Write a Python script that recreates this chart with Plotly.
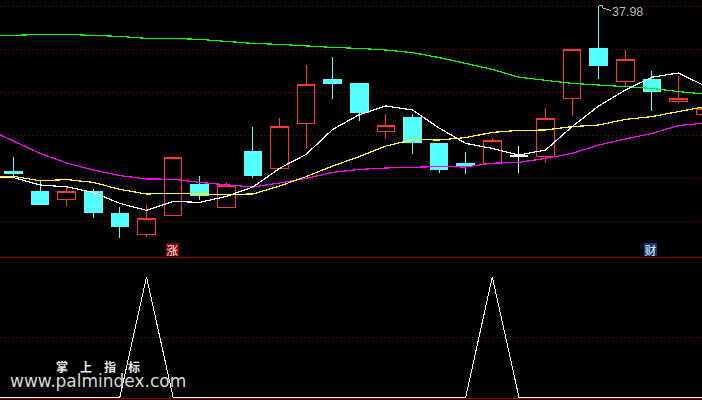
import plotly.graph_objects as go

idx = list(range(27))
opens = [29.70,28.70,28.27,28.70,27.60,26.52,27.47,29.05,27.87,30.70,29.82,32.07,34.30,34.10,31.67,32.40,31.10,30.10,30.09,30.48,30.42,33.32,35.85,34.17,34.30,33.17,32.55]
highs = [30.40,29.25,28.90,28.80,27.90,28.00,30.39,29.45,29.17,31.90,32.34,35.00,35.40,34.10,32.55,32.55,31.10,30.65,31.35,30.95,32.85,35.79,37.95,35.75,34.70,34.45,32.95]
lows = [29.35,28.05,27.95,27.35,26.37,26.40,27.47,28.25,27.87,29.35,29.82,30.87,33.30,32.22,31.30,30.57,29.62,29.57,30.09,29.62,30.12,32.47,34.32,33.95,32.72,33.12,32.55]
closes = [29.57,28.05,28.70,27.62,26.95,27.34,30.39,28.47,29.00,29.50,31.94,34.04,34.10,32.62,31.99,31.12,29.77,30.00,31.25,30.43,32.34,35.79,34.97,35.29,33.67,33.34,32.84]
doji_index = 19

ma_x = [-1] + idx
ma_white = [29.37,29.37,29.00,28.91,28.63,28.08,27.73,28.18,28.13,28.43,28.90,29.83,30.53,31.78,32.52,32.95,32.75,31.85,31.08,30.83,30.50,30.75,31.92,32.95,33.75,34.39,34.60,33.95]
ma_yellow = [29.45,29.43,29.21,29.27,29.13,28.78,28.55,28.58,28.55,28.53,28.55,28.95,29.42,29.95,30.42,30.95,31.27,31.25,31.37,31.63,31.73,31.75,31.92,32.00,32.28,32.42,32.67,32.92]
ma_magenta = [31.82,31.22,30.58,30.10,29.75,29.47,29.30,29.29,29.13,29.01,28.90,29.10,29.33,29.63,29.78,29.85,29.88,29.92,29.90,30.09,30.13,30.33,30.58,31.00,31.30,31.58,31.97,32.10]
ma_green = [36.48,36.48,36.53,36.53,36.48,36.43,36.33,36.33,36.28,36.18,36.08,36.03,35.95,35.88,35.83,35.75,35.62,35.37,35.08,34.78,34.39,34.22,34.08,34.00,33.92,33.83,33.67,33.55]

signal_x = [-1,4,5,6,17,18,19,26]
signal = [0,0,100,0,0,100,0,0]

flag_x = [22, 22.15, 22.15, 22.45]
flag_y = [37.98, 37.98, 37.85, 37.72]

grid_price = [37.93,35.78,33.63,31.48,29.33,27.18]
grid_signal = [50]
peak_label = "37.98"

RED = "#FF3333"
CYAN = "#54FFFF"
GRID = "#8A0000"
NONE = "rgba(0,0,0,0)"

normal = [i for i in idx if i != doji_index]
fig = go.Figure()
fig.add_trace(go.Candlestick(
    x=normal,
    open=[opens[i] for i in normal], high=[highs[i] for i in normal],
    low=[lows[i] for i in normal], close=[closes[i] for i in normal],
    whiskerwidth=0,
    increasing=dict(line=dict(color=RED, width=1), fillcolor=NONE),
    decreasing=dict(line=dict(color=CYAN, width=1), fillcolor=CYAN),
    xaxis="x", yaxis="y", showlegend=False,
))
fig.add_trace(go.Candlestick(
    x=[doji_index], open=[opens[doji_index]], high=[highs[doji_index]],
    low=[lows[doji_index]], close=[closes[doji_index]],
    whiskerwidth=0,
    increasing=dict(line=dict(color="#FFFFFF", width=1), fillcolor="#FFFFFF"),
    decreasing=dict(line=dict(color="#FFFFFF", width=1), fillcolor="#FFFFFF"),
    xaxis="x", yaxis="y", showlegend=False,
))
for vals, col in [(ma_green, "#00FF00"), (ma_magenta, "#FF00FF"), (ma_yellow, "#FFFF00"), (ma_white, "#FFFFFF")]:
    fig.add_trace(go.Scatter(x=ma_x, y=vals, mode="lines", line=dict(color=col, width=1.2),
                             xaxis="x", yaxis="y", showlegend=False, hoverinfo="skip"))
fig.add_trace(go.Scatter(x=flag_x, y=flag_y, mode="lines", line=dict(color="#B8B8B8", width=1),
                         xaxis="x", yaxis="y", showlegend=False, hoverinfo="skip"))
fig.add_trace(go.Scatter(x=signal_x, y=signal, mode="lines", line=dict(color="#FFFFFF", width=1),
                         xaxis="x2", yaxis="y2", showlegend=False, hoverinfo="skip"))

x_range = [-0.5075, 25.883]
axis_x = dict(range=x_range, showgrid=False, zeroline=False, showticklabels=False, ticks="",
              showline=False, rangeslider=dict(visible=False))
grid_kw = dict(showgrid=True, griddash="1px,3px", gridcolor=GRID, gridwidth=1, zeroline=False,
               showticklabels=False, ticks="", showline=False)

def ann(text, px, py, size, color, family, **kw):
    return dict(text=text, xref="paper", yref="paper", x=px/702, y=1-py/400, xanchor="center", yanchor="middle",
                showarrow=False, font=dict(size=size, color=color, family=family), **kw)

fig.update_layout(
    width=702, height=400, autosize=False,
    margin=dict(l=0, r=0, t=0, b=0, pad=0),
    paper_bgcolor="#000000", plot_bgcolor="#000000",
    boxmode="overlay", boxgap=0.05, hovermode=False, showlegend=False,
    xaxis=dict(domain=[0, 1], anchor="y", **axis_x),
    xaxis2=dict(domain=[0, 1], anchor="y2", **axis_x),
    yaxis=dict(domain=[142.5/400, 1], anchor="x", range=[25.375, 38.25], tickvals=grid_price, **grid_kw),
    yaxis2=dict(domain=[0, 142/400], anchor="x2", range=[-2.5, 115.83], tickvals=grid_signal, **grid_kw),
    shapes=[
        dict(type="line", xref="paper", yref="paper", x0=0, x1=1, y0=142.5/400, y1=142.5/400,
             line=dict(color="#A00000", width=1), layer="below"),
        dict(type="line", xref="paper", yref="paper", x0=0, x1=1, y0=1.3/400, y1=1.3/400,
             line=dict(color="#A00000", width=1), layer="below"),
    ],
    annotations=[
        ann(peak_label, 627.5, 11.5, 12.5, "#B8B8B8", "Liberation Sans"),
        ann("涨", 172.5, 249.7, 11.5, "#FFFFFF", "Noto Sans CJK SC", bgcolor="#8B0000", width=13, height=13, borderpad=0, borderwidth=0),
        ann("财", 650.5, 249.7, 11.5, "#FFFFFF", "Noto Sans CJK SC", bgcolor="#0A3C78", width=13, height=13, borderpad=0, borderwidth=0),
        ann("<b>掌　上　指　标</b>", 97.5, 366, 12, "#E8E8E8", "Noto Sans CJK SC"),
        ann("www.palmindex.com", 97.5, 380.5, 17, "#D8D8D8", "DejaVu Sans"),
    ],
)
fig.write_html("out.html", config=dict(displayModeBar=False, staticPlot=True),
               post_script="document.body.style.margin='0';document.body.style.background='#000';document.body.style.overflow='hidden';document.querySelectorAll('.js-line,.boxes path').forEach(function(p){p.style.shapeRendering='crispEdges';});")
